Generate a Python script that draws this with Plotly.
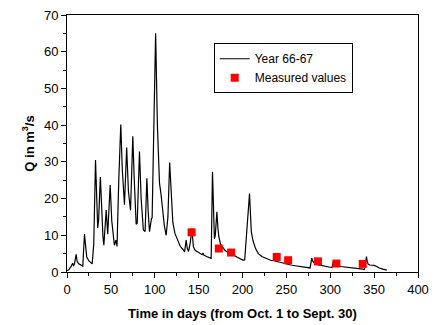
import plotly.graph_objects as go

# Hydrograph vertices (day, discharge)
days = [0, 2, 4.8, 6.5, 7.4, 8.5, 10.4, 11.5, 13, 16, 18, 19.9, 21, 22.5, 25, 28.7, 30.5,
        32.5, 35, 36, 38, 39.5, 41, 42, 44.7, 46.4, 49.2, 51, 54, 55.8, 57,
        59, 61.3, 63, 65.5, 68, 70, 72.4, 75, 76.5, 78.8, 80, 82.6, 84.5, 87, 89,
        91, 92.5, 94, 96.3, 97, 99, 101, 103, 105.4, 107, 109, 111, 113, 115, 117,
        118.5, 120.6, 123, 126, 129, 132, 134, 135.8, 137, 138.5, 140.5, 142.3, 143, 144,
        146, 149, 152, 154, 155, 156, 159, 162, 164.3, 165.8, 167, 168, 169, 170.8,
        172, 173, 175, 177, 180, 184, 186, 188, 190, 194, 198, 201, 202.5, 204, 205,
        206, 208, 210, 212, 215, 218, 222, 227, 232, 237, 240, 245, 250, 255, 260,
        265, 270, 277, 278, 279, 280, 282, 285, 290, 295, 300, 302, 303, 304, 306,
        308, 312, 320, 330, 337, 339, 340, 341.3, 342, 343, 345, 348, 350, 353, 356,
        360, 364.5]
flow = [0.4, 0.6, 1.6, 2.4, 1.6, 2.2, 4.8, 3.0, 2.3, 1.9, 1.6, 10.3, 6.5, 4.1, 3.0, 2.2, 7.6,
        30.5, 12.0, 14.0, 25.9, 15.0, 9.5, 7.3, 16.9, 10.3, 23.7, 14.0, 7.3, 8.7, 7.0,
        25.0, 40.2, 28.0, 18.3, 33.9, 22.0, 16.8, 37.0, 26.0, 13.0, 13.3, 32.8, 20.0, 11.5, 11.0,
        25.5, 16.5, 11.0, 14.6, 14.7, 40.0, 65.0, 40.0, 24.2, 21.5, 16.0, 12.5, 10.0, 15.0, 29.8,
        22.0, 13.5, 10.5, 8.5, 7.0, 6.2, 5.5, 8.7, 6.5, 5.6, 8.0, 11.9, 9.0, 6.9,
        5.9, 5.4, 5.0, 4.7, 5.2, 4.6, 4.2, 3.9, 3.7, 27.3, 15.0, 9.0, 10.0, 16.4,
        12.0, 9.6, 7.5, 6.8, 5.9, 5.2, 5.0, 5.2, 4.6, 4.0, 3.5, 3.2, 3.3, 8.0, 10.5,
        12.5, 21.4, 11.0, 8.5, 6.3, 5.0, 4.2, 3.6, 3.2, 3.0, 2.8, 2.4, 2.1, 1.9, 1.7,
        1.5, 1.3, 1.1, 2.5, 3.8, 3.0, 2.4, 2.0, 1.7, 1.5, 1.3, 1.2, 2.8, 3.2, 2.2,
        1.8, 1.5, 1.2, 1.0, 0.8, 0.7, 2.2, 4.2, 3.0, 2.2, 1.9, 1.9, 1.8, 1.5, 1.1,
        0.8, 0.5]

meas_days = [142, 173, 187, 239, 252, 286, 307, 337]
meas_flow = [10.8, 6.4, 5.3, 4.1, 3.2, 2.9, 2.3, 2.2]

x_ticks = [0, 50, 100, 150, 200, 250, 300, 350, 400]
y_ticks = [0, 10, 20, 30, 40, 50, 60, 70]

FONT = "Arial, Liberation Sans, sans-serif"

fig = go.Figure()
fig.add_trace(go.Scatter(x=days, y=flow, mode="lines", name="Year 66-67",
                         line=dict(color="black", width=1.2)))
fig.add_trace(go.Scatter(x=meas_days, y=meas_flow, mode="markers", name="Measured values",
                         marker=dict(symbol="square", color="#ff0000", size=8,
                                     line=dict(width=0))))

axis_common = dict(showline=True, linecolor="black", linewidth=1, mirror=True,
                   ticks="outside", ticklen=5, tickwidth=1, tickcolor="black",
                   showgrid=False, zeroline=False, automargin=False,
                   tickfont=dict(family=FONT, size=13, color="black"),
                   minor=dict(ticks="outside", ticklen=3, tickwidth=1, tickcolor="black"))

fig.update_xaxes(range=[0, 400], tickvals=x_ticks, minor_dtick=25,
                 title=dict(text="<b>Time in days (from Oct. 1 to Sept. 30)</b>",
                            font=dict(family=FONT, size=13, color="black"), standoff=13),
                 **axis_common)
fig.update_yaxes(range=[0, 70], tickvals=y_ticks, minor_dtick=5,
                 title=dict(text="<b>Q in m<sup>3</sup>/s</b>",
                            font=dict(family=FONT, size=13, color="black"), standoff=6),
                 **axis_common)

fig.update_layout(
    width=434, height=325,
    margin=dict(l=67, r=16, t=15, b=53),
    paper_bgcolor="white", plot_bgcolor="white",
    showlegend=True,
    legend=dict(x=0.418, y=0.89, xanchor="left", yanchor="top",
                bordercolor="black", borderwidth=1, bgcolor="white",
                font=dict(family=FONT, size=12, color="black"),
                itemwidth=30, tracegroupgap=0),
)

fig.write_html("out.html")
